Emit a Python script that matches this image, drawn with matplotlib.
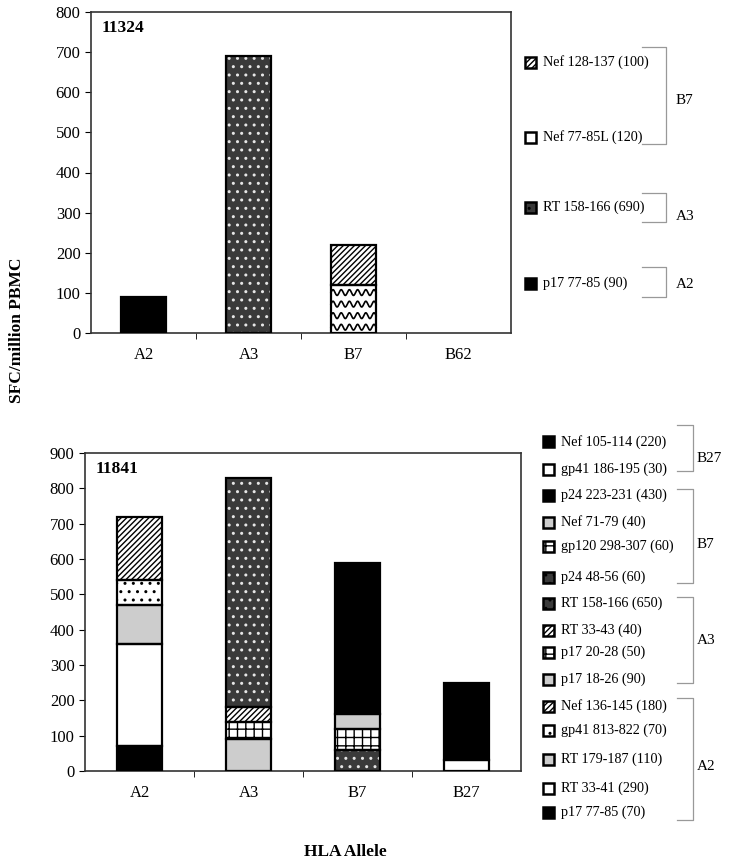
import matplotlib
matplotlib.use("Agg")
import matplotlib.pyplot as plt
from matplotlib.patches import Rectangle
import numpy as np

plt.rcParams['font.family'] = ['Liberation Serif', 'DejaVu Serif']
plt.rcParams['hatch.linewidth'] = 1.0

# --- data: patient 11324 ---
top_alleles = ['A2', 'A3', 'B7', 'B62']
# (allele, epitope label, value, pattern) stacked bottom to top
top_segments = [
    ('A2', 'p17 77-85 (90)', 90, 'black'),
    ('A3', 'RT 158-166 (690)', 690, 'darkdot'),
    ('B7', 'Nef 77-85L (120)', 120, 'wave'),
    ('B7', 'Nef 128-137 (100)', 100, 'diag'),
]

# --- data: patient 11841 ---
bot_alleles = ['A2', 'A3', 'B7', 'B27']
bot_segments = [
    ('A2', 'p17 77-85 (70)', 70, 'black'),
    ('A2', 'RT 33-41 (290)', 290, 'white'),
    ('A2', 'RT 179-187 (110)', 110, 'gray'),
    ('A2', 'gp41 813-822 (70)', 70, 'dots'),
    ('A2', 'Nef 136-145 (180)', 180, 'diag'),
    ('A3', 'p17 18-26 (90)', 90, 'gray'),
    ('A3', 'p17 20-28 (50)', 50, 'grid'),
    ('A3', 'RT 33-43 (40)', 40, 'diag'),
    ('A3', 'RT 158-166 (650)', 650, 'darkdot'),
    ('B7', 'p24 48-56 (60)', 60, 'darkdot'),
    ('B7', 'gp120 298-307 (60)', 60, 'grid'),
    ('B7', 'Nef 71-79 (40)', 40, 'gray'),
    ('B7', 'p24 223-231 (430)', 430, 'black'),
    ('B27', 'gp41 186-195 (30)', 30, 'white'),
    ('B27', 'Nef 105-114 (220)', 220, 'black'),
]

# legend listing, top to bottom, with bracket groups
top_legend = ['Nef 128-137 (100)', 'Nef 77-85L (120)', 'RT 158-166 (690)', 'p17 77-85 (90)']
top_legend_y = [62, 137, 207, 283]
top_groups = [('B7', 47, 144, 100), ('A3', 193, 222, 216), ('A2', 267, 297, 285)]

bot_legend = ['Nef 105-114 (220)', 'gp41 186-195 (30)', 'p24 223-231 (430)', 'Nef 71-79 (40)',
              'gp120 298-307 (60)', 'p24 48-56 (60)', 'RT 158-166 (650)', 'RT 33-43 (40)',
              'p17 20-28 (50)', 'p17 18-26 (90)', 'Nef 136-145 (180)', 'gp41 813-822 (70)',
              'RT 179-187 (110)', 'RT 33-41 (290)', 'p17 77-85 (70)']
bot_legend_y = [442, 469, 495, 522, 546, 577, 603, 630, 652, 679, 706, 730, 759, 788, 812]
bot_groups = [('B27', 425, 471, 458), ('B7', 489, 583, 544), ('A3', 597, 683, 640), ('A2', 698, 820, 767)]

styles = {
    'black': dict(fc='black', hatch=None, hc='black'),
    'white': dict(fc='white', hatch=None, hc='black'),
    'gray': dict(fc='#cdcdcd', hatch=None, hc='black'),
    'darkdot': dict(fc='#3a3a3a', hatch='..', hc='#e6e6e6'),
    'diag': dict(fc='white', hatch='//////', hc='black'),
    'dots': dict(fc='white', hatch='..', hc='black'),
    'grid': dict(fc='white', hatch='++', hc='black'),
    'wave': dict(fc='white', hatch=None, hc='black'),
}

W, H = 729, 866
fig = plt.figure(figsize=(W / 100, H / 100), dpi=100)


def px_axes(l, t, r, b):
    return fig.add_axes([l / W, 1 - b / H, (r - l) / W, (b - t) / H])


def draw_wave(ax, x0, w, y0, h, ymax):
    # wavy fill drawn inside the bar
    spacing = ymax * 0.036
    amp = ymax * 0.009
    xs = np.linspace(x0, x0 + w, 200)
    yy = y0 + spacing * 0.5
    while yy < y0 + h:
        ys = yy + amp * np.sin((xs - x0) / w * 2 * np.pi * 5.5)
        ax.plot(xs, np.clip(ys, y0, y0 + h), color='black', lw=1.2, zorder=3)
        yy += spacing


def draw_stack(ax, alleles, segments, width, ymax):
    xpos = {a: i for i, a in enumerate(alleles)}
    base = {a: 0 for a in alleles}
    for allele, label, val, pat in segments:
        st = styles[pat]
        x = xpos[allele]
        ax.bar(x, val, width, bottom=base[allele], color=st['fc'], hatch=st['hatch'],
               edgecolor=st['hc'], linewidth=0, zorder=2)
        if pat == 'wave':
            draw_wave(ax, x - width / 2, width, base[allele], val, ymax)
        ax.bar(x, val, width, bottom=base[allele], fill=False, edgecolor='black',
               linewidth=1.6, zorder=4)
        base[allele] += val
    ax.set_xlim(-0.5, len(alleles) - 0.5)
    ax.set_ylim(0, ymax)
    ax.set_xticks(range(len(alleles)))
    ax.set_xticklabels(alleles, fontsize=12)
    ax.set_xticks(np.arange(0.5, len(alleles) - 0.5, 1), minor=True)
    ax.tick_params(axis='x', which='major', length=0, pad=10)
    ax.tick_params(axis='x', which='minor', length=4, direction='out')
    ax.tick_params(axis='y', labelsize=12, length=4, direction='out')
    for s in ax.spines.values():
        s.set_color('#333333')
        s.set_linewidth(1.2)


def draw_legend(items, ys, segments, mx, tx, groups, bx0, bx1, lx):
    pats = {lab: pat for _, lab, _, pat in segments}
    for lab, y in zip(items, ys):
        st = styles[pats[lab]]
        s = 11
        fig.patches.append(Rectangle(((mx - s / 2) / W, 1 - (y + s / 2) / H), s / W, s / H,
                                     transform=fig.transFigure, facecolor=st['fc'],
                                     hatch=st['hatch'], edgecolor='black', linewidth=1.8))
        fig.text(tx / W, 1 - y / H, lab, fontsize=10.2, va='center', ha='left')
    for name, y0, y1, ly in groups:
        fig.add_artist(plt.Line2D([bx0 / W, bx1 / W, bx1 / W, bx0 / W],
                                  [1 - y0 / H, 1 - y0 / H, 1 - y1 / H, 1 - y1 / H],
                                  transform=fig.transFigure, color='#999999', lw=0.9))
        fig.text(lx / W, 1 - ly / H, name, fontsize=11, va='center', ha='left')


ax1 = px_axes(91, 12, 511, 333)
draw_stack(ax1, top_alleles, top_segments, 0.43, 800)
ax1.text(0.025, 0.975, '11324', transform=ax1.transAxes, fontsize=12.5,
         fontweight='bold', va='top', ha='left')

ax2 = px_axes(85, 453, 521, 771)
draw_stack(ax2, bot_alleles, bot_segments, 0.41, 900)
ax2.text(0.025, 0.975, '11841', transform=ax2.transAxes, fontsize=12.5,
         fontweight='bold', va='top', ha='left')

draw_legend(top_legend, top_legend_y, top_segments, 530, 543, top_groups, 642, 666, 676)
draw_legend(bot_legend, bot_legend_y, bot_segments, 548, 561, bot_groups, 677, 693, 697)

fig.text(17 / W, 1 - 330 / H, 'SFC/million PBMC', rotation=90, fontsize=12.5,
         fontweight='bold', va='center', ha='center')
fig.text(345 / W, 1 - 852 / H, 'HLA Allele', fontsize=12.5, fontweight='bold',
         va='center', ha='center')

fig.savefig('out.png', dpi=100)
